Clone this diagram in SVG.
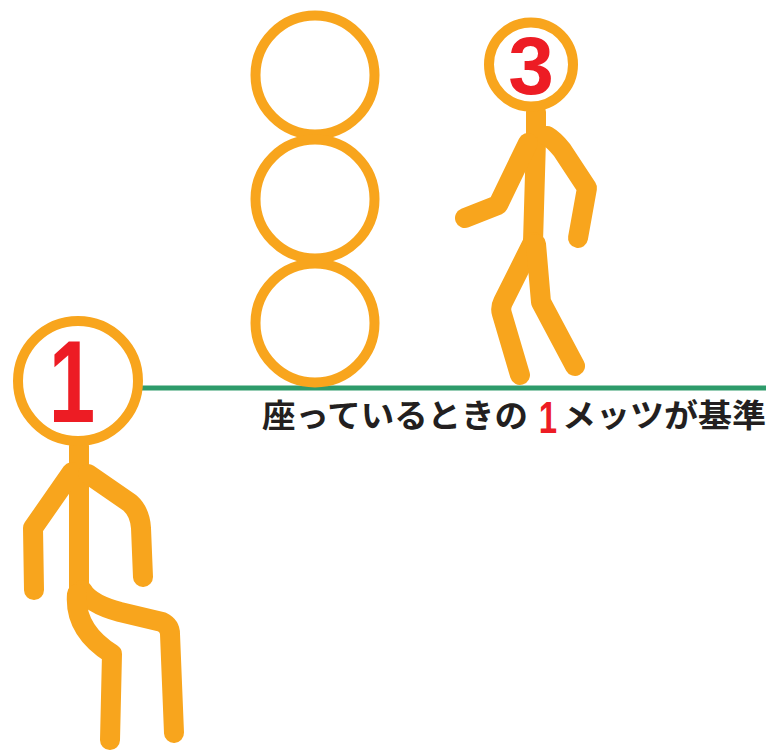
<svg xmlns="http://www.w3.org/2000/svg" width="772" height="750" viewBox="0 0 772 750">
  <style>
    .limb { fill: none; stroke: #f8a51d; stroke-width: 20; stroke-linecap: round; stroke-linejoin: round; }
    .ring { fill: #ffffff; stroke: #f8a51d; stroke-width: 10; }
    .num { font-family: "Liberation Sans", "Noto Sans", sans-serif; font-weight: bold; fill: #ed1c24; text-anchor: middle; }
    .caption { font-family: "Noto Sans CJK JP", "Noto Sans", sans-serif; font-weight: bold; font-size: 32px; fill: #231f20; }
  </style>
  <rect width="772" height="750" fill="#ffffff"/>

  <!-- level line at seated head height -->
  <g id="connectors">
    <line x1="139" y1="388" x2="766" y2="388" stroke="#2e9b6b" stroke-width="5"/>
  </g>

  <!-- three stacked head-sized circles -->
  <g id="stack">
    <circle class="ring" cx="315" cy="75" r="59.5"/>
    <circle class="ring" cx="315" cy="199" r="59.5"/>
    <circle class="ring" cx="315" cy="323" r="59.5"/>
  </g>

  <!-- seated figure -->
  <g id="figure-seated">
    <path class="limb" d="M79 446 L79 470 L79 590"/>
    <path class="limb" d="M72 472 L33 528 L34 590"/>
    <path class="limb" d="M88 474 L130 503 Q140 512 141 528 L143 577"/>
    <path class="limb" d="M82 590 Q90 604 120 612 L162 622 Q170 626 170 634 L174 733"/>
    <path class="limb" d="M77 594 Q74 630 112 654 L110 740"/>
    <circle class="ring" cx="78" cy="381" r="60"/>
    <text class="num" transform="translate(72 422) scale(0.72 1)" font-size="116">1</text>
  </g>

  <!-- walking figure -->
  <g id="figure-walking">
    <path class="limb" d="M536 112 L536 140 L533 242"/>
    <path class="limb" d="M528 143 L498 205 L465 218"/>
    <path class="limb" d="M547 136 Q554 140 562 150 L587 188 L578 238"/>
    <path class="limb" d="M533 242 L503 302 Q500 308 502 314 L520 375"/>
    <path class="limb" d="M536 244 L541 302 L575 366"/>
    <circle class="ring" cx="531" cy="64.5" r="42"/>
    <text class="num" x="531" y="94" font-size="82">3</text>
  </g>

  <!-- caption -->
  <g id="caption">
    <text class="caption" x="262" y="427" textLength="266" lengthAdjust="spacingAndGlyphs">座っているときの</text>
    <text class="num" transform="translate(548 433) scale(0.75 1)" font-size="44">1</text>
    <text class="caption" x="562" y="427" textLength="204" lengthAdjust="spacingAndGlyphs">メッツが基準</text>
  </g>
</svg>
